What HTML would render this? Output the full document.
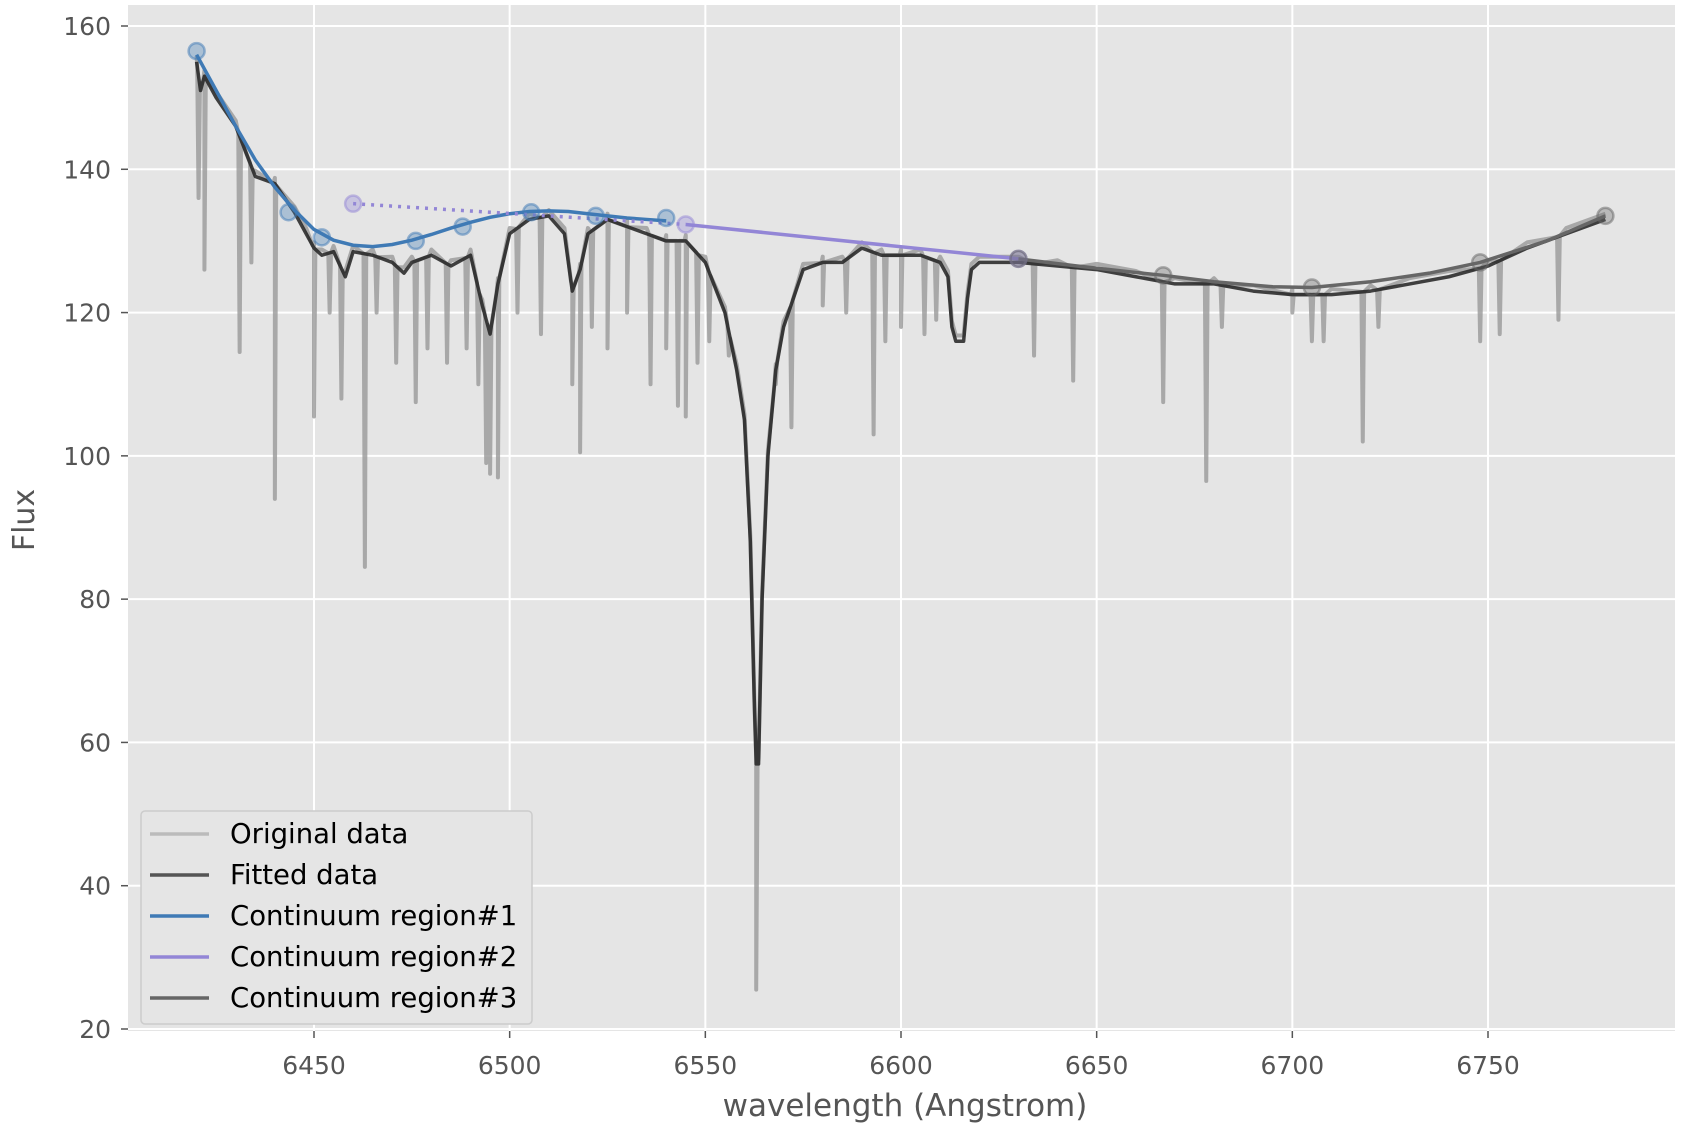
<!DOCTYPE html>
<html><head><meta charset="utf-8"><style>
body{margin:0;background:#fff;}
svg{display:block;font-family:"DejaVu Sans","Liberation Sans",sans-serif;}
</style></head><body>
<svg id="chart" width="1690" height="1140">
<rect x="128" y="5" width="1547" height="1026" fill="#e5e5e5"/>
<g id="grid"></g>
<g id="series"></g>
<g id="axes"></g>
<text x="905" y="1116" font-size="31" fill="#555" text-anchor="middle">wavelength (Angstrom)</text>
<text x="0" y="0" font-size="30" fill="#555" text-anchor="middle" transform="translate(34,520) rotate(-90)">Flux</text>
<g>
<rect x="141" y="811" width="391" height="213" rx="4" fill="#e5e5e5" stroke="#cccccc" stroke-width="1.5"/>
<g><line x1="150" y1="834" x2="209" y2="834" stroke="#bbb" stroke-width="3.5"/><text x="230" y="843" font-size="27.5" fill="#000">Original data</text></g>
<g><line x1="150" y1="875" x2="209" y2="875" stroke="#555" stroke-width="3.5"/><text x="230" y="884" font-size="27.5" fill="#000">Fitted data</text></g>
<g><line x1="150" y1="916" x2="209" y2="916" stroke="#3f7ab5" stroke-width="3.5"/><text x="230" y="925" font-size="27.5" fill="#000">Continuum region#1</text></g>
<g><line x1="150" y1="957" x2="209" y2="957" stroke="#9386d6" stroke-width="3.5"/><text x="230" y="966" font-size="27.5" fill="#000">Continuum region#2</text></g>
<g><line x1="150" y1="998" x2="209" y2="998" stroke="#666" stroke-width="3.5"/><text x="230" y="1007" font-size="27.5" fill="#000">Continuum region#3</text></g>
</g>
</svg>
<script>
const xTicks=[6450,6500,6550,6600,6650,6700,6750];
const yTicks=[20,40,60,80,100,120,140,160];
const fitW=[6420,6421,6422,6425,6430,6435,6440,6445,6448,6450,6452,6455,6458,6460,6465,6470,6473,6475,6480,6485,6490,6493,6495,6497,6500,6505,6510,6514,6516,6518,6520,6525,6530,6535,6540,6545,6550,6555,6558,6560,6561.5,6562.5,6563,6563.6,6564.5,6566,6568,6570,6575,6580,6585,6590,6595,6600,6605,6610,6612,6613,6614,6616,6617,6618,6620,6630,6640,6650,6660,6670,6680,6690,6700,6710,6720,6730,6740,6750,6760,6770,6780];
const fitV=[155,151,153,150,146,139,138,134,131,129,128,128.5,125,128.5,128,127,125.5,127,128,126.5,128,121,117,124,131,133,133.5,131,123,126,131,133,132,131,130,130,127,120,112,105,88,66,57,57,80,100,112,118,126,127,127,129,128,128,128,127,125,118,116,116,122,126,127,127,126.5,126,125,124,124,123,122.5,122.5,123,124,125,126.5,129,131,133];
const lineW=[6420.5,6422,6431,6434,6440,6450,6454,6457,6463,6466,6471,6476,6479,6484,6489,6492,6494,6495,6497,6502,6508,6516,6518,6521,6525,6530,6536,6540,6543,6545,6548,6551,6556,6563,6568,6572,6580,6586,6593,6596,6600,6606,6609,6634,6644,6667,6678,6682,6700,6705,6708,6718,6722,6748,6753,6768];
const lineV=[136,126,114.5,127,94,105.5,120,108,84.5,120,113,107.5,115,113,115,110,99,97.5,97,120,117,110,100.5,118,115,120,110,115,107,105.5,113,116,114,25.5,110,104,121,120,103,116,118,117,119,114,110.5,107.5,96.5,118,120,116,116,102,118,116,117,119];
const c1W=[6420,6425,6430,6435,6440,6445,6450,6455,6460,6465,6470,6475,6480,6485,6490,6495,6500,6505,6510,6515,6520,6525,6530,6535,6540];
const c1V=[156,151,146,141.3,137.5,134.3,131.6,130.1,129.4,129.2,129.5,130.1,130.9,131.8,132.6,133.3,133.8,134.1,134.2,134.1,133.8,133.5,133.2,133.0,132.8];
const c1PtW=[6420,6443.5,6452,6476,6488,6505.5,6522,6540];
const c1PtV=[156.5,134,130.5,130,132,134,133.5,133.2];
const c2PtW=[6460,6545,6630];
const c2PtV=[135.2,132.3,127.5];
const c3W=[6630,6645,6660,6667,6680,6695,6705,6720,6735,6748,6765,6780];
const c3V=[127.5,126.5,125.6,125.2,124.3,123.6,123.5,124.3,125.5,127,130,133.5];
const c3PtW=[6630,6667,6705,6748,6780];
const c3PtV=[127.5,125.2,123.5,127,133.5];

const X=w=>314+(w-6450)*1174/300;
const Y=v=>26+(160-v)*(1029-26)/140;
const NS='http://www.w3.org/2000/svg';
function mk(tag,attrs,parent){const e=document.createElementNS(NS,tag);for(const k in attrs)e.setAttribute(k,attrs[k]);parent.appendChild(e);return e;}
const grid=document.getElementById('grid'),ser=document.getElementById('series'),axes=document.getElementById('axes');
xTicks.forEach(t=>{
 const g=mk('line',{x1:X(t),x2:X(t),y1:5,y2:1031,stroke:'#fff','stroke-width':2},grid);
 
 
 mk('line',{x1:X(t),x2:X(t),y1:1031,y2:1038,stroke:'#555','stroke-width':1.5},axes);
 const tx=mk('text',{x:X(t),y:1074,'font-size':25,fill:'#555','text-anchor':'middle'},axes);
 tx.textContent=t;
 
 
});
yTicks.forEach(t=>{
 const g=mk('line',{x1:128,x2:1675,y1:Y(t),y2:Y(t),stroke:'#fff','stroke-width':2},grid);
 
 
 mk('line',{x1:121,x2:128,y1:Y(t),y2:Y(t),stroke:'#555','stroke-width':1.5},axes);
 const tx=mk('text',{x:111,y:Y(t)+9,'font-size':25,fill:'#555','text-anchor':'end'},axes);
 tx.textContent=t;
 
 
});
function interp(w){for(let i=0;i<fitW.length-1;i++){if(w>=fitW[i]&&w<=fitW[i+1]){const f=(w-fitW[i])/(fitW[i+1]-fitW[i]);return fitV[i]+f*(fitV[i+1]-fitV[i]);}}return fitV[fitV.length-1];}
let pts=[];fitW.forEach((w,i)=>pts.push([w,fitV[i]+0.8]));
lineW.forEach((w,i)=>{pts.push([w-0.35,interp(w-0.35)]);pts.push([w,lineV[i]]);pts.push([w+0.35,interp(w+0.35)]);});
pts.sort((a,b)=>a[0]-b[0]);
const orig=mk('polyline',{points:pts.map(p=>X(p[0])+','+Y(p[1])).join(' '),fill:'none',stroke:'#999','stroke-opacity':0.8,'stroke-width':4,'stroke-linejoin':'round'},ser);


const fit=mk('polyline',{points:fitW.map((w,i)=>X(w)+','+Y(fitV[i])).join(' '),fill:'none',stroke:'#222','stroke-opacity':0.85,'stroke-width':3.5,'stroke-linejoin':'round'},ser);


const c1=mk('polyline',{points:c1W.map((w,i)=>X(w)+','+Y(c1V[i])).join(' '),fill:'none',stroke:'#3f7ab5','stroke-width':3.5},ser);


const c2d=mk('line',{x1:X(c2PtW[0]),y1:Y(c2PtV[0]),x2:X(c2PtW[1]),y2:Y(c2PtV[1]),stroke:'#9386d6','stroke-width':3.5,'stroke-dasharray':'3,6'},ser);


const c2=mk('line',{x1:X(c2PtW[1]),y1:Y(c2PtV[1]),x2:X(c2PtW[2]),y2:Y(c2PtV[2]),stroke:'#9386d6','stroke-width':3.5},ser);


const c3=mk('polyline',{points:c3W.map((w,i)=>X(w)+','+Y(c3V[i])).join(' '),fill:'none',stroke:'#666','stroke-width':3.5},ser);


function dots(ws,vs,col,name){ws.forEach((w,i)=>{const c=mk('circle',{cx:X(w),cy:Y(vs[i]),r:8,fill:col,'fill-opacity':0.35,stroke:col,'stroke-opacity':0.5,'stroke-width':2.5},ser);
 
 
});}
dots(c1PtW,c1PtV,'#3f7ab5','continuum-1-point');
dots(c2PtW,c2PtV,'#9386d6','continuum-2-point');
dots(c3PtW,c3PtV,'#666','continuum-3-point');
</script>
</body></html>
